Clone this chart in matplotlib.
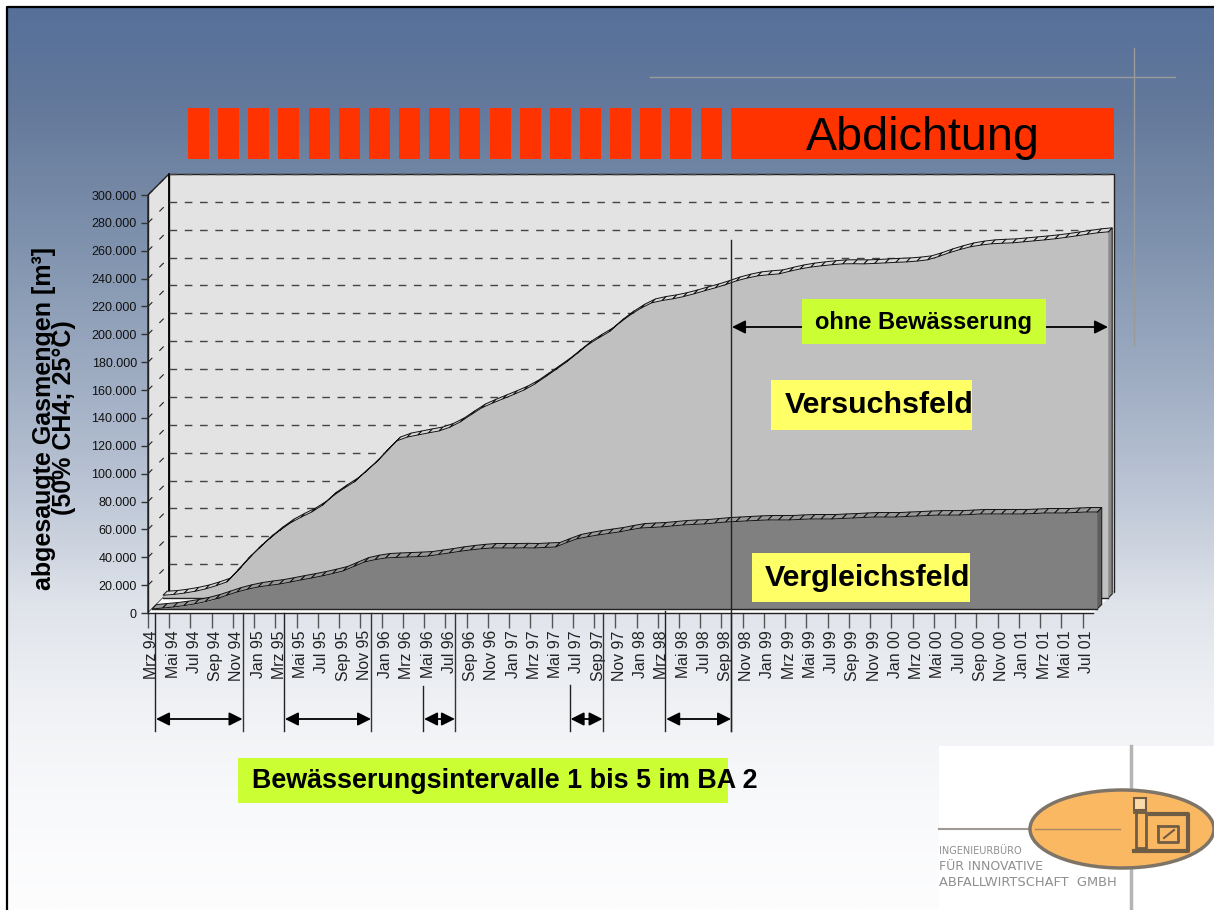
import matplotlib
matplotlib.use('Agg')
import matplotlib.pyplot as plt
from matplotlib.colors import LinearSegmentedColormap
from matplotlib.patches import Ellipse, Polygon, Rectangle
from matplotlib.transforms import Affine2D
import numpy as np

plt.rcParams['font.family'] = ['Liberation Sans', 'DejaVu Sans']

# monthly values, Mrz 94 .. Aug 01 [m3]
months = list(range(90))
versuchsfeld = [
    2000, 2500, 3500, 4800, 6500, 8800, 11500, 19500, 28000, 35500,
    42400, 48500, 53900, 58000, 61700, 66500, 73200, 78500, 83300, 90000,
    96900, 105000, 112700, 115500, 117000, 118500, 119900, 122500, 126400, 131500,
    136400, 139800, 142900, 146000, 149300, 153500, 158700, 164000, 169400, 175500,
    181700, 186500, 191000, 197500, 203200, 208000, 211800, 213500, 214700, 216300,
    218300, 220500, 222600, 225000, 227600, 229600, 231200, 232000, 232600, 234500,
    236200, 237500, 238400, 239200, 239800, 239900, 239800, 240100, 240500, 240900,
    241200, 241800, 242700, 245000, 247700, 250000, 252000, 253300, 254200, 254600,
    254900, 255600, 256300, 257000, 257800, 258800, 259900, 261000, 262100, 262800,
]
vergleichsfeld = [
    0, 700, 1400, 2400, 3600, 5200, 7200, 9700, 12200, 14200,
    15800, 16900, 17900, 19300, 20800, 22200, 23700, 25400, 27300, 30500,
    33700, 35400, 36600, 37000, 37300, 37600, 38000, 39100, 40200, 41400,
    42400, 43200, 43800, 43800, 43800, 43900, 43800, 44200, 44500, 47500,
    50300, 51800, 53100, 54200, 55300, 56800, 58100, 58500, 58900, 59600,
    60300, 60700, 61000, 61700, 62400, 62800, 63200, 63600, 63900, 63900,
    63900, 64300, 64600, 64600, 64600, 65000, 65300, 65700, 66000, 66000,
    66000, 66400, 66700, 67100, 67400, 67400, 67400, 67800, 68200, 68200,
    68200, 68200, 68200, 68500, 68900, 68900, 68900, 69300, 69600, 69600,
]
tick_labels = [
    'Mrz 94', 'Mai 94', 'Jul 94', 'Sep 94', 'Nov 94', 'Jan 95', 'Mrz 95', 'Mai 95', 'Jul 95',
    'Sep 95', 'Nov 95', 'Jan 96', 'Mrz 96', 'Mai 96', 'Jul 96', 'Sep 96', 'Nov 96', 'Jan 97',
    'Mrz 97', 'Mai 97', 'Jul 97', 'Sep 97', 'Nov 97', 'Jan 98', 'Mrz 98', 'Mai 98', 'Jul 98',
    'Sep 98', 'Nov 98', 'Jan 99', 'Mrz 99', 'Mai 99', 'Jul 99', 'Sep 99', 'Nov 99', 'Jan 00',
    'Mrz 00', 'Mai 00', 'Jul 00', 'Sep 00', 'Nov 00', 'Jan 01', 'Mrz 01', 'Mai 01', 'Jul 01',
]
y_ticks = list(range(0, 300001, 20000))
# Bewaesserungsintervalle, start and end in months after Mrz 94
interval_start = [0.66, 12.8, 25.9, 39.7, 48.7]
interval_end = [8.9, 21.0, 28.9, 42.8, 54.9]

W, H = 1214, 910
X0, Y0, CW, CH = 148, 613, 945.2, 418   # front plane of the chart in pixels
DEPTH = 21
x_px = 89 / CW
y_px = 300000 / CH

fig = plt.figure(figsize=(W / 100, H / 100), dpi=100, facecolor='white')

# background gradient
bg = fig.add_axes([0, 0, 1, 1], zorder=0)
bg.axis('off')
stops = [(0.0, '#56709a'), (0.11, '#64799b'), (0.26, '#7f92ad'), (0.44, '#a5b2c7'),
         (0.53, '#bac4d4'), (0.66, '#dfe3ea'), (0.77, '#eff1f4'), (0.88, '#f8f9fb'), (1.0, '#fdfdfe')]
cmap = LinearSegmentedColormap.from_list('bg', stops)
bg.imshow(np.linspace(0, 1, 512).reshape(-1, 1), cmap=cmap, aspect='auto', extent=[7, W, H, 7], zorder=0)
bg.set_xlim(0, W)
bg.set_ylim(H, 0)
bg.plot([7, 7, W], [H, 7, 7], color='black', lw=1.6, zorder=1)
bg.plot([650, 1175], [77, 77], color='#9a9a9a', lw=1, zorder=1)
bg.plot([1134, 1134], [48, 345], color='#9a9a9a', lw=1, zorder=1)

# Abdichtung bar
for k in range(18):
    bg.add_patch(Rectangle((188 + 30.15 * k, 108), 21, 51, fc='#ff3300', ec='none', zorder=2))
bg.add_patch(Rectangle((731, 108), 383, 51, fc='#ff3300', ec='none', zorder=2))
bg.text(923, 138.5, 'Abdichtung', fontsize=33.7, color='black', ha='center', va='center', zorder=3)
bg.text(54, 418, 'abgesaugte Gasmengen [m³]\n(50% CH4; 25°C)', fontsize=18, fontweight='bold', color='black',
        rotation=90, ha='center', va='center', linespacing=0.8, multialignment='center', zorder=3)

# chart axes, real data scale
ax = fig.add_axes([X0 / W, (H - Y0) / H, CW / W, CH / H], zorder=2)
ax.patch.set_alpha(0)
ax.set_xlim(0, 89)
ax.set_ylim(0, 300000)
for s in ax.spines.values():
    s.set_visible(False)
ax.spines['left'].set_visible(True)
ax.spines['left'].set_color('#222222')
ax.spines['left'].set_linewidth(1)
ax.spines['bottom'].set_visible(True)
ax.spines['bottom'].set_color('#222222')
ax.spines['bottom'].set_linewidth(1)

ax.set_yticks(y_ticks)
ax.set_yticklabels(['{:,}'.format(v).replace(',', '.') for v in y_ticks], fontsize=9, color='#111111')
ax.set_xticks(months[::2])
ax.set_xticklabels(tick_labels, rotation=90, fontsize=11.4, color='#222222')
ax.tick_params(axis='y', length=5, width=1, pad=3, color='#333333')
ax.tick_params(axis='x', length=10.5, width=1, pad=2, color='#555555')
for t in ax.get_xticklabels():
    t.set_transform(t.get_transform() + Affine2D().translate(4, 0))

dx = DEPTH * x_px
dy = DEPTH * y_px


def poly(pts, **kw):
    kw.setdefault('clip_on', False)
    p = Polygon(pts, closed=True, **kw)
    ax.add_patch(p)
    return p


# walls and floor
poly([(dx, dy), (89 + dx, dy), (89 + dx, 300000 + dy), (dx, 300000 + dy)], fc='#e3e3e3', ec='#222222', lw=1, zorder=1)
poly([(0, 0), (dx, dy), (dx, 300000 + dy), (0, 300000)], fc='#e3e3e3', ec='#222222', lw=1, zorder=1)
poly([(0, 0), (89, 0), (89 + dx, dy), (dx, dy)], fc='white', ec='none', zorder=1)
ax.plot([dx, dx], [dy, 300000 + dy], color='black', lw=1.2, zorder=1.2, clip_on=False)

# gridlines on back and side wall
for v in y_ticks[1:]:
    ax.plot([dx, 89 + dx], [v + dy, v + dy], color='#444444', lw=1, dashes=(5.5, 5.5), zorder=1.3, clip_on=False)
    ax.plot([0, dx], [v, v + dy], color='#222222', lw=0.8, dashes=(5.5, 9), zorder=1.3, clip_on=False)


def area3d(values, shift, width, face, top, side, z):
    sx, sy = shift * x_px, shift * y_px
    wx, wy = width * x_px, width * y_px
    xs = np.array(months, dtype=float) + sx
    ys = np.array(values, dtype=float) + sy
    poly([(xs[-1], sy), (xs[-1], ys[-1]), (xs[-1] + wx, ys[-1] + wy), (xs[-1] + wx, sy + wy)],
         fc=side, ec='#222222', lw=0.8, zorder=z)
    ax.fill_between(xs, sy, ys, color=face, lw=0, zorder=z + 0.1, clip_on=False)
    for i in range(len(xs) - 1):
        poly([(xs[i], ys[i]), (xs[i + 1], ys[i + 1]), (xs[i + 1] + wx, ys[i + 1] + wy), (xs[i] + wx, ys[i] + wy)],
             fc=top, ec='#111111', lw=0.7, zorder=z + 0.2)
    ax.plot([xs[0], xs[-1]], [sy, sy], color='#222222', lw=1, zorder=z + 0.3, clip_on=False)


area3d(versuchsfeld, 15, 4, '#c0c0c0', '#d8d8d8', '#8c8c8c', 2)
area3d(vergleichsfeld, 4, 4.5, '#808080', '#9a9a9a', '#5e5e5e', 3)

# annotation layer in pixels
top = fig.add_axes([0, 0, 1, 1], zorder=5)
top.patch.set_alpha(0)
top.set_xlim(0, W)
top.set_ylim(H, 0)
top.axis('off')


def arrow(ax_, x1, x2, y, z=6):
    ax_.annotate('', xy=(x1, y), xytext=(x2, y), zorder=z,
                 arrowprops=dict(arrowstyle='<|-|>', color='black', lw=1.3, mutation_scale=20,
                                 shrinkA=0, shrinkB=0))


interval_tops = [613, 613, 686, 685, 611]
for a, b, t in zip(interval_start, interval_end, interval_tops):
    xa = X0 + a * CW / 89
    xb = X0 + b * CW / 89
    top.plot([xa, xa], [t, 731], color='#222222', lw=1, zorder=4)
    top.plot([xb, xb], [613, 731], color='#333333', lw=1, zorder=4)
    arrow(top, xa + 1, xb, 719)
top.plot([731, 731], [240, 731], color='#222222', lw=1, zorder=4)
arrow(top, 732, 1108, 327, z=4)


def label(text, x0, x1, y0, y1, tx, ty, fc, size):
    top.add_patch(Rectangle((x0, y0), x1 - x0, y1 - y0, fc=fc, ec='none', zorder=5))
    top.text(tx, ty, text, fontsize=size, fontweight='bold', color='black', ha='left', va='center', zorder=7)


label('ohne Bewässerung', 802, 1046, 299, 344, 815, 323, '#ccff33', 17.0)
label('Versuchsfeld', 771, 972, 380, 430, 785, 405, '#ffff66', 21.9)
label('Vergleichsfeld', 752, 970, 553, 602, 765, 578, '#ffff66', 21.9)
label('Bewässerungsintervalle 1 bis 5 im BA 2', 238, 728, 758, 803, 252, 781, '#ccff33', 19.4)

# logo block
top.add_patch(Rectangle((939, 746), W - 939, H - 746, fc='white', ec='none', zorder=8))
top.plot([1131, 1131], [746, H], color='#b5b5b5', lw=2.5, zorder=8.1)
top.plot([939, 1040], [829, 829], color='#a09a94', lw=1.5, zorder=8.1)
top.add_patch(Ellipse((1122, 829), 184, 78, fc='#fbb862', ec='#7f7468', lw=2.5, zorder=8.2, clip_on=True))
top.plot([1035, 1120], [829, 829], color='#a8895f', lw=1, zorder=8.3)
brown = '#6f5c45'
top.add_patch(Rectangle((1134, 798), 12, 12, fc='#fcd9a8', ec=brown, lw=1.5, zorder=8.3))
top.plot([1134, 1146, 1146, 1136, 1136], [812, 812, 848, 848, 812], color=brown, lw=2, zorder=8.3)
top.plot([1150, 1188, 1188, 1134], [814, 814, 851, 851], color=brown, lw=3, zorder=8.3)
top.plot([1158, 1178, 1178, 1158, 1158], [826, 826, 842, 842, 826], color=brown, lw=2, zorder=8.3)
top.plot([1164, 1174], [838, 830], color=brown, lw=1.5, zorder=8.3)
logo_lines = ['INGENIEURBÜRO', 'FÜR INNOVATIVE', 'ABFALLWIRTSCHAFT  GMBH']
for txt, y, size in zip(logo_lines, [851, 866, 882], [7.0, 9.0, 9.4]):
    top.text(939, y, txt, fontsize=size, color='#8f8f8f', ha='left', va='center', zorder=8.4,
             family=['DejaVu Sans'])

fig.savefig('out.png', dpi=100)
